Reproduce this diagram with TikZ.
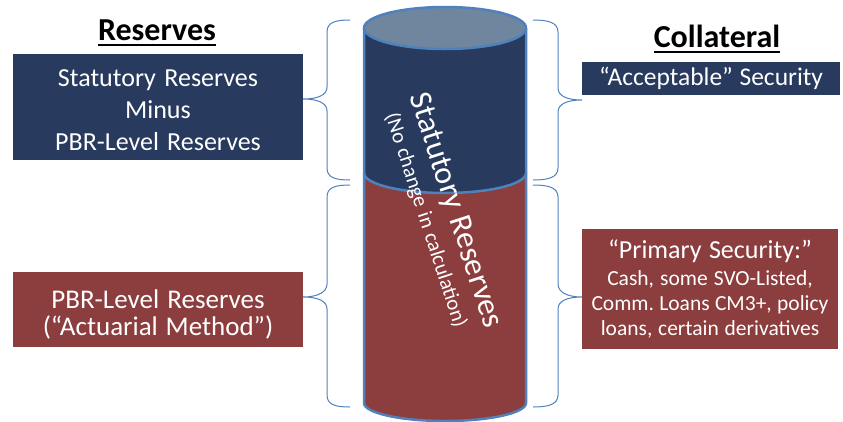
\documentclass[tikz,border=0pt]{standalone}
\usepackage{fontspec}
\setmainfont{Carlito}
\definecolor{navy}{RGB}{40,58,94}
\definecolor{brick}{RGB}{140,61,61}
\definecolor{cyltop}{RGB}{112,134,158}
\definecolor{edgeblue}{RGB}{79,129,189}
\newcommand{\fixsp}{\frenchspacing\spaceskip=\fontdimen2\font plus \fontdimen3\font minus \fontdimen4\font\relax}
\begin{document}
\begin{tikzpicture}[x=1pt,y=1pt,
  box/.style={inner sep=0pt, text=white, align=center},
  title/.style={inner sep=0pt, anchor=base, font=\bfseries\fontsize{32}{38}\selectfont},
  cylline/.style={draw=edgeblue, line width=2.5pt},
  bracestyle/.style={draw=edgeblue, line width=1pt},
  ul/.style={line width=2.5pt}]
\useasboundingbox (0,0) rectangle (843,-421);

% titles
\node[title] (tres) at (157,-40) {Reserves};
\draw[ul] ([yshift=-5pt]tres.base west) -- ([yshift=-5pt]tres.base east);
\node[title] (tcol) at (717,-47) {Collateral};
\draw[ul] ([yshift=-5pt]tcol.base west) -- ([yshift=-5pt]tcol.base east);

% boxes
\node[box, fill=navy, text width=290pt, minimum height=106pt,
  font=\fontsize{26}{32}\selectfont] (lb) at (158,-107)
  {\fixsp\strut Statutory Reserves\\Minus\\PBR-Level Reserves\par};
\node[box, fill=brick, text width=290pt, minimum height=75pt,
  font=\fontsize{27}{26.5}\selectfont] (lr) at (158,-309.5)
  {\fixsp\rule{0pt}{29pt}PBR-Level Reserves\\(“Actuarial Method”)\par};
\node[box, fill=navy, text width=258pt, minimum height=33pt,
  font=\fontsize{25.5}{30}\selectfont] (rb) at (711,-78.5)
  {\fixsp “Acceptable” Security\par};
\node[box, fill=brick, text width=256pt, minimum height=120pt,
  font=\fontsize{26}{27}\selectfont] (rr) at (710,-289)
  {\fixsp “Primary Security:”\\[2pt]
   \fontsize{21.5}{25}\selectfont\fixsp Cash, some SVO-Listed,\\Comm. Loans CM3+, policy\\loans, certain derivatives\par};

% cylinder
\fill[brick] (364,-173) -- (364,-403)
  arc[start angle=180, end angle=360, x radius=81, y radius=18]
  -- (526,-173)
  arc[start angle=360, end angle=180, x radius=81, y radius=20] -- cycle;
\fill[navy] (364,-28) -- (364,-173)
  arc[start angle=180, end angle=360, x radius=81, y radius=20]
  -- (526,-28) -- cycle;
\draw[cylline] (364,-173) arc[start angle=180, end angle=360, x radius=81, y radius=20];
\draw[cylline] (364,-28) -- (364,-403)
  arc[start angle=180, end angle=360, x radius=81, y radius=18] -- (526,-28);
\draw[cylline, fill=cyltop] (445,-28) ellipse[x radius=81, y radius=21];

\node[text=white, inner sep=0pt, rotate=-72, align=center, text width=300pt,
  font=\fontsize{32}{36}\selectfont] (ctext) at (442,-215)
  {\fixsp Statutory Reserves\\
   \fontsize{21}{29}\selectfont\fixsp (No change in calculation)\par};

% left braces
\draw[bracestyle] (350,-20) .. controls (336,-20) and (327,-22) .. (327,-32) -- (327,-87)
  .. controls (327,-95) and (318,-99) .. (303,-99)
  .. controls (318,-99) and (327,-103) .. (327,-111) -- (327,-168)
  .. controls (327,-178) and (336,-180) .. (350,-180);
\draw[bracestyle] (350,-185) .. controls (336,-185) and (327,-187) .. (327,-197) -- (327,-284)
  .. controls (327,-292) and (318,-297) .. (303,-297)
  .. controls (318,-297) and (327,-301) .. (327,-309) -- (327,-395)
  .. controls (327,-405) and (336,-407) .. (350,-407);
% right braces
\draw[bracestyle] (533,-20) .. controls (547,-20) and (558,-22) .. (558,-32) -- (558,-88)
  .. controls (558,-96) and (567,-100) .. (582,-100)
  .. controls (567,-100) and (558,-104) .. (558,-112) -- (558,-168)
  .. controls (558,-178) and (547,-180) .. (533,-180);
\draw[bracestyle] (533,-185) .. controls (547,-185) and (558,-187) .. (558,-197) -- (558,-284)
  .. controls (558,-292) and (567,-297) .. (582,-297)
  .. controls (567,-297) and (558,-301) .. (558,-309) -- (558,-395)
  .. controls (558,-405) and (547,-407) .. (533,-407);
\end{tikzpicture}
\end{document}
